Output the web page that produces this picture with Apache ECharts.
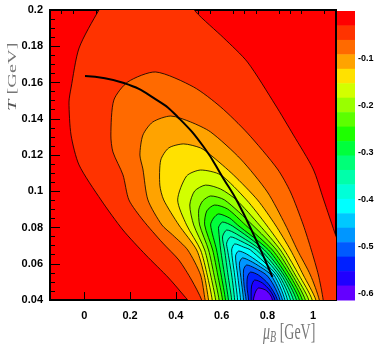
<!DOCTYPE html>
<html>
<head>
<meta charset="utf-8">
<script src="https://cdn.jsdelivr.net/npm/echarts@6/dist/echarts.min.js"></script>
<style>
html, body { margin: 0; padding: 0; background: #fff; }
#chart { width: 382px; height: 354px; }
</style>
</head>
<body>
<div id="chart"></div>
<script>
// colour scale (20 contour bands, top = 0, bottom = zMin)
var zMin = -0.613, zMax = 0;
var bandColors = ['#ff0000', '#ff3300', '#ff6a00', '#ffa300', '#ffe100', '#d2ff00', '#99ff00', '#5cff00',
    '#1eff00', '#00ff3c', '#00ff78', '#00ffaa', '#00ffd8', '#00ffff', '#00c8ff', '#0096ff',
    '#005aff', '#0020ff', '#2000ff', '#6400ff'];
var xTicks = [0, 0.2, 0.4, 0.6, 0.8, 1];
var xMinorTicks = [-0.1, -0.05, 0.05, 0.1, 0.15, 0.25, 0.3, 0.35, 0.45, 0.5, 0.55, 0.65, 0.7, 0.75, 0.85, 0.9, 0.95, 1.05];
var barTicks = [-0.1, -0.2, -0.3, -0.4, -0.5, -0.6];

// contour lines (muB, T), outermost first; each runs up the left side, over the top, down the right side
var c1 = [[0.53, 0.029], [0.452, 0.04], [0.369, 0.0521], [0.269, 0.0648], [0.169, 0.0786], [0.073, 0.0952],
    [-0.023, 0.1145], [-0.058, 0.131], [-0.067, 0.1492], [-0.058, 0.157], [-0.023, 0.179], [0.064, 0.2],
    [0.139, 0.214], [0.291, 0.219], [0.443, 0.208], [0.487, 0.199], [0.609, 0.1846], [0.713, 0.1713],
    [0.835, 0.1476], [0.914, 0.131], [1.0, 0.1123], [1.045, 0.0957], [1.101, 0.0748], [1.162, 0.0538],
    [1.21, 0.029]];
var c2 = [[0.535, 0.029], [0.513, 0.04], [0.469, 0.051], [0.413, 0.0621], [0.343, 0.0714], [0.256, 0.0841],
    [0.195, 0.0952], [0.169, 0.109], [0.125, 0.1217], [0.116, 0.131], [0.129, 0.1503], [0.19, 0.1603],
    [0.312, 0.1658], [0.478, 0.1575], [0.596, 0.1465], [0.713, 0.1321], [0.844, 0.1123], [0.901, 0.0996],
    [0.957, 0.0814], [0.992, 0.0676], [1.023, 0.0538], [1.044, 0.04], [1.05, 0.029]];
var c3 = [[0.545, 0.029], [0.528, 0.04], [0.508, 0.0538], [0.452, 0.0676], [0.386, 0.0759], [0.339, 0.0814],
    [0.278, 0.0952], [0.256, 0.1123], [0.243, 0.12], [0.256, 0.131], [0.299, 0.1382], [0.378, 0.1415],
    [0.465, 0.1382], [0.552, 0.1327], [0.683, 0.1178], [0.8, 0.0996], [0.879, 0.0814], [0.931, 0.0676],
    [0.988, 0.0538], [1.027, 0.04], [1.035, 0.029]];
var c4 = [[0.555, 0.029], [0.543, 0.04], [0.524, 0.0538], [0.491, 0.0676], [0.413, 0.0814], [0.347, 0.0952],
    [0.33, 0.1034], [0.334, 0.1172], [0.369, 0.1239], [0.434, 0.1261], [0.508, 0.1239], [0.552, 0.12],
    [0.652, 0.109], [0.757, 0.0952], [0.835, 0.0814], [0.901, 0.0676], [0.957, 0.0538], [1.012, 0.04],
    [1.02, 0.029]];
var c5 = [[0.565, 0.029], [0.559, 0.04], [0.537, 0.0538], [0.508, 0.0676], [0.447, 0.0814], [0.408, 0.0952],
    [0.447, 0.1084], [0.508, 0.1117], [0.596, 0.109], [0.709, 0.0952], [0.796, 0.0814], [0.874, 0.0676],
    [0.938, 0.0538], [0.996, 0.04], [1.0, 0.029]];
var c6 = [[0.58, 0.029], [0.574, 0.04], [0.552, 0.0538], [0.526, 0.0676], [0.478, 0.0814], [0.461, 0.0924],
    [0.482, 0.1001], [0.53, 0.1034], [0.596, 0.1012], [0.665, 0.0952], [0.765, 0.0814], [0.857, 0.0676],
    [0.922, 0.0538], [0.981, 0.04], [0.985, 0.029]];
var c7 = [[0.595, 0.029], [0.589, 0.04], [0.567, 0.0538], [0.543, 0.0676], [0.504, 0.0814], [0.5, 0.0897],
    [0.517, 0.0946], [0.552, 0.0974], [0.613, 0.0952], [0.735, 0.0814], [0.84, 0.0676], [0.909, 0.0538],
    [0.966, 0.04], [0.97, 0.029]];
var c8 = [[0.61, 0.029], [0.604, 0.04], [0.583, 0.0538], [0.561, 0.0676], [0.526, 0.0814], [0.535, 0.0891],
    [0.569, 0.0924], [0.626, 0.0902], [0.704, 0.0814], [0.822, 0.0676], [0.897, 0.0538], [0.953, 0.04],
    [0.957, 0.029]];
var c9 = [[0.622, 0.029], [0.617, 0.04], [0.598, 0.0538], [0.578, 0.0676], [0.552, 0.0814], [0.565, 0.0852],
    [0.587, 0.0875], [0.635, 0.0852], [0.67, 0.0814], [0.805, 0.0676], [0.883, 0.0538], [0.94, 0.04],
    [0.943, 0.029]];
var c10 = [[0.635, 0.029], [0.63, 0.04], [0.613, 0.0538], [0.596, 0.0676], [0.587, 0.0786], [0.587, 0.0803],
    [0.604, 0.083], [0.648, 0.0808], [0.787, 0.0676], [0.872, 0.0538], [0.927, 0.04], [0.93, 0.029]];
var c11 = [[0.648, 0.029], [0.644, 0.04], [0.628, 0.0538], [0.613, 0.0676], [0.604, 0.0748], [0.622, 0.0786],
    [0.665, 0.0764], [0.77, 0.0676], [0.861, 0.0538], [0.914, 0.04], [0.917, 0.029]];
var c12 = [[0.66, 0.029], [0.657, 0.04], [0.644, 0.0538], [0.626, 0.0676], [0.622, 0.0714], [0.639, 0.0748],
    [0.683, 0.0726], [0.752, 0.0676], [0.85, 0.0538], [0.901, 0.04], [0.905, 0.029]];
var c13 = [[0.673, 0.029], [0.67, 0.04], [0.657, 0.0538], [0.644, 0.0676], [0.657, 0.0709], [0.696, 0.0692],
    [0.726, 0.0676], [0.84, 0.0538], [0.888, 0.04], [0.89, 0.029]];
var c14 = [[0.686, 0.029], [0.683, 0.04], [0.67, 0.0538], [0.661, 0.0643], [0.674, 0.067], [0.709, 0.0654],
    [0.761, 0.061], [0.829, 0.0538], [0.877, 0.04], [0.88, 0.029]];
var c15 = [[0.699, 0.029], [0.696, 0.04], [0.683, 0.0538], [0.678, 0.0604], [0.691, 0.0632], [0.726, 0.0615],
    [0.77, 0.0582], [0.816, 0.0538], [0.866, 0.04], [0.868, 0.029]];
var c16 = [[0.709, 0.029], [0.707, 0.04], [0.698, 0.0483], [0.696, 0.0566], [0.709, 0.0593], [0.744, 0.0577],
    [0.796, 0.0538], [0.827, 0.0483], [0.855, 0.04], [0.857, 0.029]];
var c17 = [[0.72, 0.029], [0.718, 0.04], [0.711, 0.0472], [0.713, 0.0527], [0.726, 0.0554], [0.761, 0.0538],
    [0.805, 0.0488], [0.844, 0.04], [0.846, 0.029]];
var c18 = [[0.73, 0.029], [0.729, 0.04], [0.731, 0.0477], [0.744, 0.051], [0.778, 0.0494], [0.813, 0.045],
    [0.833, 0.04], [0.835, 0.029]];
var c19 = [[0.74, 0.029], [0.739, 0.04], [0.748, 0.0444], [0.761, 0.0466], [0.792, 0.0455], [0.813, 0.0428],
    [0.822, 0.04], [0.823, 0.029]];
var contours = [c1, c2, c3, c4, c5, c6, c7, c8, c9, c10, c11, c12, c13, c14, c15, c16, c17, c18, c19];

// thick freeze-out curve
var freezeOut = [[0.003, 0.1636], [0.173, 0.1597], [0.321, 0.150], [0.408, 0.141], [0.522, 0.1244],
    [0.609, 0.1068], [0.670, 0.0941], [0.757, 0.0714], [0.822, 0.0527]];

var bands = [];
for (var i = 0; i < bandColors.length; i++) bands.push(i);

var chart = echarts.init(document.getElementById('chart'));
chart.setOption({
    animation: false,
    grid: [
        { left: 50, top: 10, width: 286, height: 290, show: true, backgroundColor: bandColors[0],
          borderColor: '#000', borderWidth: 2, containLabel: false, outerBoundsMode: 'none' },
        { left: 337, top: 11, width: 18, height: 289, containLabel: false, outerBoundsMode: 'none' }
    ],
    xAxis: [
        { gridIndex: 0, type: 'value', min: -0.15, max: 1.1,
          axisLine: { show: false, onZero: false }, splitLine: { show: false },
          axisTick: { inside: true, length: 8, lineStyle: { color: '#000' }, customValues: xTicks },
          axisLabel: { customValues: xTicks, color: '#000', fontWeight: 'bold', fontSize: 11,
                       fontFamily: 'Liberation Sans', margin: 10 } },
        { gridIndex: 0, type: 'value', min: -0.15, max: 1.1,
          axisLine: { show: false, onZero: false }, splitLine: { show: false }, axisLabel: { show: false },
          axisTick: { inside: true, length: 4, lineStyle: { color: '#000' }, customValues: xMinorTicks } },
        { gridIndex: 1, type: 'value', min: 0, max: 1, show: false }
    ],
    yAxis: [
        { gridIndex: 0, type: 'value', min: 0.04, max: 0.2, interval: 0.02,
          axisLine: { show: false, onZero: false }, splitLine: { show: false },
          axisTick: { inside: true, length: 10, lineStyle: { color: '#000' } },
          minorTick: { show: true, splitNumber: 4, length: 5, lineStyle: { color: '#000' } },
          axisLabel: { color: '#000', fontWeight: 'bold', fontSize: 11, fontFamily: 'Liberation Sans', margin: 7,
              formatter: function (v) { return String(+v.toFixed(2)); } } },
        { gridIndex: 1, type: 'value', min: zMin, max: zMax, position: 'right',
          axisLine: { show: false, onZero: false }, splitLine: { show: false },
          axisTick: { inside: true, length: 8, customValues: barTicks, lineStyle: { color: '#000' } },
          axisLabel: { customValues: barTicks, color: '#000', fontWeight: 'bold', fontSize: 9,
                       fontFamily: 'Liberation Sans', margin: 3 } }
    ],
    graphic: [
        { type: 'text', x: 13, y: 111, rotation: Math.PI / 2, scaleX: 1.7,
          style: { text: '{i|T} [GeV]', fill: '#777', font: '12px "Liberation Serif"',
                   textAlign: 'left', textVerticalAlign: 'middle',
                   rich: { i: { fontStyle: 'italic', fontFamily: 'Liberation Serif', fontSize: 12, fill: '#555' } } } },
        { type: 'text', x: 263, y: 333, scaleY: 1.65,
          style: { text: '{i|μ}{s|B} [GeV]', fill: '#777', font: '14px "Liberation Serif"',
                   textAlign: 'left', textVerticalAlign: 'middle',
                   rich: { i: { fontStyle: 'italic', fontFamily: 'Liberation Serif', fontSize: 14, fill: '#777' },
                           s: { fontStyle: 'italic', fontFamily: 'Liberation Serif', fontSize: 10, fill: '#777',
                                padding: [6, 0, 0, 0] } } } }
    ],
    series: [
        {
            type: 'custom', xAxisIndex: 0, yAxisIndex: 0, clip: true, data: contours.map(function (c, i) { return i; }),
            renderItem: function (params, api) {
                var k = api.value(0);
                var pts = contours[k].map(function (p) { return api.coord(p); });
                return { type: 'polygon', shape: { points: pts, smooth: 0.25 },
                         style: { fill: bandColors[k + 1], stroke: '#000', lineWidth: 0.8 } };
            }
        },
        {
            type: 'line', xAxisIndex: 0, yAxisIndex: 0, data: freezeOut, smooth: true, symbol: 'none',
            lineStyle: { color: '#000', width: 2 }
        },
        {
            type: 'custom', xAxisIndex: 2, yAxisIndex: 1, data: bands,
            renderItem: function (params, api) {
                var k = api.value(0);
                var step = (zMax - zMin) / bandColors.length;
                var top = api.coord([0, zMax - k * step]);
                var bot = api.coord([1, zMax - (k + 1) * step]);
                return { type: 'rect', shape: { x: top[0], y: top[1], width: bot[0] - top[0], height: bot[1] - top[1] + 0.5 },
                         style: { fill: bandColors[k] } };
            }
        }
    ]
});
</script>
</body>
</html>
